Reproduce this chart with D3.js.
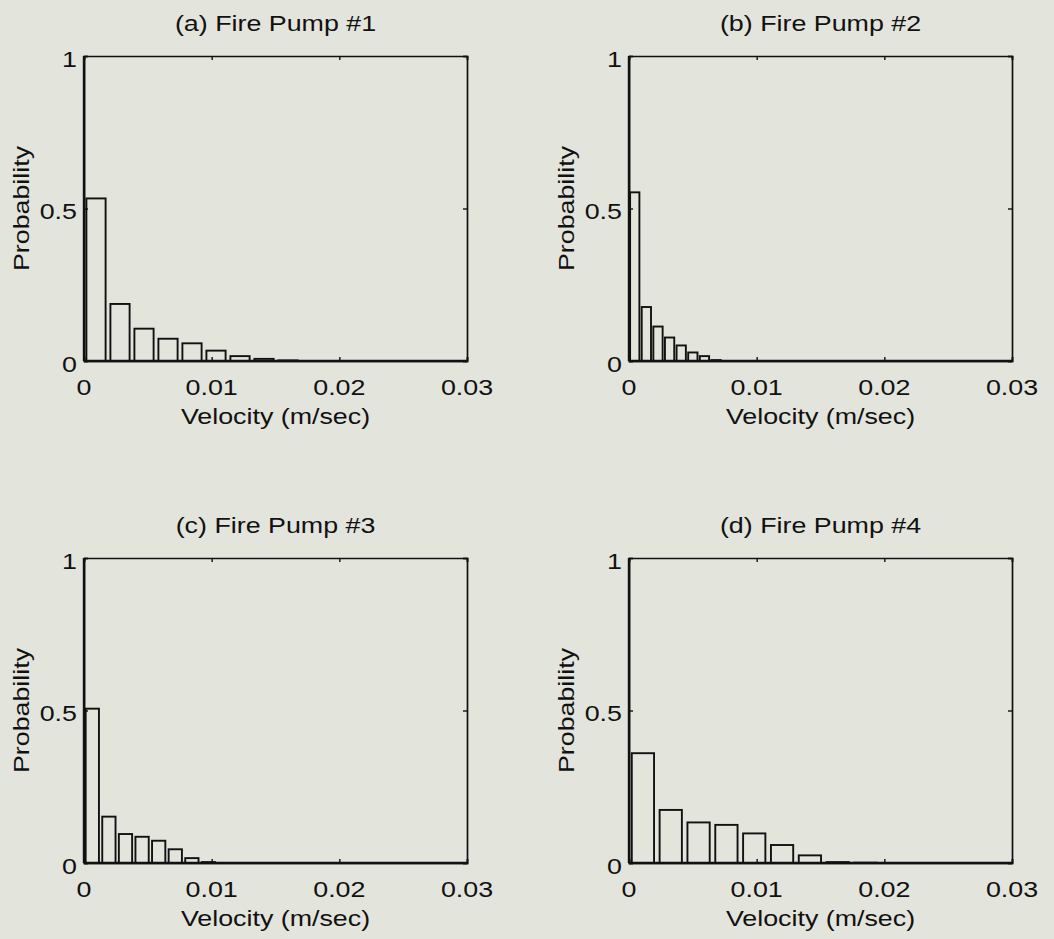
<!DOCTYPE html>
<html>
<head>
<meta charset="utf-8">
<script src="https://cdn.jsdelivr.net/npm/d3@7"></script>
<style>
  html, body { margin: 0; padding: 0; background: #e3e4dc; }
  svg { display: block; }
  text { font-family: "Liberation Sans", Arial, Helvetica, sans-serif; fill: #111; }
</style>
</head>
<body>
<svg id="chart" width="1054" height="939"></svg>
<script>
// ---- data ----
const titles = ["(a) Fire Pump #1", "(b) Fire Pump #2", "(c) Fire Pump #3", "(d) Fire Pump #4"];
const xLabel = "Velocity (m/sec)";
const yLabel = "Probability";
const xTicks = [0, 0.01, 0.02, 0.03];
const xTickLabels = ["0", "0.01", "0.02", "0.03"];
const yTicks = [0, 0.5, 1];
const yTickLabels = ["0", "0.5", "1"];

// bin centers (m/sec) and bin widths
const centers1 = [0.00094, 0.00282, 0.0047, 0.00658, 0.00846, 0.01034, 0.01222, 0.0141, 0.01598];
const values1  = [0.533, 0.187, 0.106, 0.073, 0.058, 0.034, 0.016, 0.007, 0.002];
const binWidth1 = 0.00188;

const centers2 = [0.00045, 0.00136, 0.00227, 0.00318, 0.00409, 0.005, 0.00591, 0.00682];
const values2  = [0.553, 0.177, 0.113, 0.077, 0.051, 0.028, 0.016, 0.003];
const binWidth2 = 0.00091;

const centers3 = [0.00065, 0.00195, 0.00325, 0.00455, 0.00585, 0.00715, 0.00845, 0.00975];
const values3  = [0.506, 0.152, 0.095, 0.086, 0.073, 0.045, 0.016, 0.003];
const binWidth3 = 0.0013;

const centers4 = [0.00109, 0.00327, 0.00545, 0.00763, 0.00981, 0.01199, 0.01417, 0.01635, 0.01853];
const values4  = [0.36, 0.174, 0.133, 0.125, 0.097, 0.059, 0.025, 0.003, 0.001];
const binWidth4 = 0.00218;

const series = [
  {centers: centers1, values: values1, bw: binWidth1},
  {centers: centers2, values: values2, bw: binWidth2},
  {centers: centers3, values: values3, bw: binWidth3},
  {centers: centers4, values: values4, bw: binWidth4}
];

// ---- layout ----
const plotW = 383, plotH = 305;
const origins = [[84, 56], [629, 56], [84, 558], [629, 558]];
const fontSize = 22, hScale = 1.22;

const svg = d3.select("#chart");

function label(g, x, y, txt, anchor, rotate) {
  const t = g.append("g")
    .attr("transform", `translate(${x},${y})` + (rotate ? ` rotate(${rotate})` : "") + ` scale(${hScale},1)`);
  t.append("text")
    .attr("text-anchor", anchor)
    .attr("font-size", fontSize)
    .text(txt);
}

series.forEach((s, i) => {
  const [ox, oy] = origins[i];
  const g = svg.append("g").attr("transform", `translate(${ox},${oy})`);
  const x = d3.scaleLinear().domain([0, 0.03]).range([0, plotW]);
  const y = d3.scaleLinear().domain([0, 1]).range([plotH, 0]);

  // bars
  g.selectAll("rect.bar")
    .data(s.values)
    .join("rect")
    .attr("class", "bar")
    .attr("x", (d, j) => x(s.centers[j] - 0.4 * s.bw))
    .attr("width", x(0.8 * s.bw) - x(0))
    .attr("y", d => y(d))
    .attr("height", d => y(0) - y(d))
    .attr("fill", "none")
    .attr("stroke", "#111")
    .attr("stroke-width", 1.9);

  // axes: ticks only, pointing inward
  const axB = d3.axisBottom(x).tickValues(xTicks).tickSize(-4).tickFormat("");
  const axT = d3.axisTop(x).tickValues(xTicks).tickSize(-4).tickFormat("");
  const axL = d3.axisLeft(y).tickValues(yTicks).tickSize(-4).tickFormat("");
  const axR = d3.axisRight(y).tickValues(yTicks).tickSize(-4).tickFormat("");
  [[axB, `translate(0,${plotH})`], [axT, "translate(0,0)"], [axL, "translate(0,0)"], [axR, `translate(${plotW},0)`]]
    .forEach(([ax, tr]) => {
      const a = g.append("g").attr("transform", tr).call(ax);
      a.select(".domain").attr("stroke", "#111").attr("stroke-width", 1.7);
      a.selectAll(".tick line").attr("stroke", "#111").attr("stroke-width", 1.4);
    });
  // thicker left / bottom edges
  g.append("line").attr("x1", 0).attr("x2", 0).attr("y1", 0).attr("y2", plotH)
    .attr("stroke", "#111").attr("stroke-width", 2.4);
  g.append("line").attr("x1", 0).attr("x2", plotW).attr("y1", plotH).attr("y2", plotH)
    .attr("stroke", "#111").attr("stroke-width", 2.4);

  // tick labels
  xTicks.forEach((t, j) => label(g, x(t), plotH + 34, xTickLabels[j], "middle"));
  yTicks.forEach((t, j) => label(g, -7, y(t) + 10.5, yTickLabels[j], "end"));

  // titles and axis labels
  label(g, plotW / 2, -25, titles[i], "middle");
  label(g, plotW / 2, plotH + 63, xLabel, "middle");
  label(g, -55, plotH / 2, yLabel, "middle", -90);
});
</script>
</body>
</html>
